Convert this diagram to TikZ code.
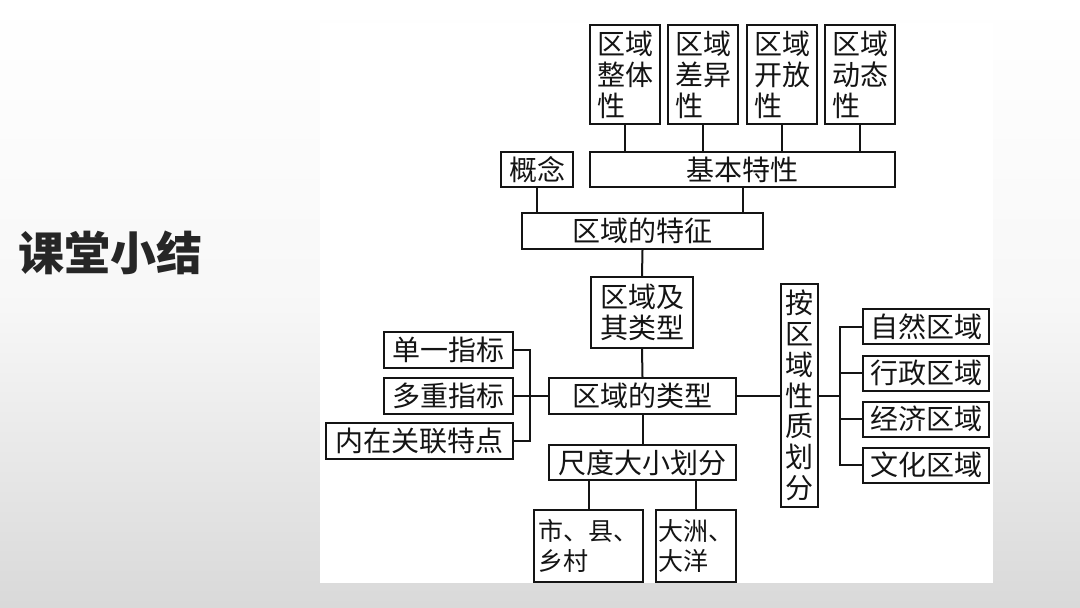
\documentclass[tikz,border=0pt]{standalone}
\usepackage{fontspec}
\newfontfamily\cjk{Noto Sans CJK SC}
\begin{document}
\begin{tikzpicture}[x=1pt,y=-1pt,
  box/.style={draw=black!92, line width=2pt, inner sep=0pt, fill=white,
    font=\cjk\fontsize{28}{31}\selectfont, text=black!92},
  link/.style={draw=black!92, line width=2pt},
  small/.style={font=\cjk\fontsize{25}{30}\selectfont}]
\useasboundingbox (0,0) rectangle (1080,608);
\shade[top color=white, bottom color=black!15, middle color=black!3] (0,0) rectangle (1080,608);
\fill[white] (320,23) rectangle (993,583);
\node[font=\cjk\bfseries\fontsize{46}{46}\selectfont, text=black!85] (title) at (111,253) {课堂小结};
% top boxes
\node[box, minimum width=70, minimum height=99, align=left] (z1) at (625,74.5) {区域\\整体\\性};
\node[box, minimum width=70, minimum height=99, align=left] (z2) at (703,74.5) {区域\\差异\\性};
\node[box, minimum width=70, minimum height=99, align=left] (z3) at (782,74.5) {区域\\开放\\性};
\node[box, minimum width=70, minimum height=99, align=left] (z4) at (860,74.5) {区域\\动态\\性};
\node[box, minimum width=72, minimum height=35] (gn) at (537,169.5) {概念};
\node[box, minimum width=305, minimum height=35] (jb) at (742.5,169.5) {基本特性};
\node[box, minimum width=241, minimum height=36] (tz) at (642.5,231) {区域的特征};
\node[box, minimum width=102, minimum height=71, align=center] (lx) at (642,312.5) {区域及\\其类型};
\node[box, minimum width=187, minimum height=36] (lt) at (642.5,396) {区域的类型};
\node[box, minimum width=129, minimum height=36] (d1) at (448.5,350) {单一指标};
\node[box, minimum width=129, minimum height=36] (d2) at (448.5,396) {多重指标};
\node[box, minimum width=187, minimum height=36] (d3) at (419.5,441) {内在关联特点};
\node[box, minimum width=187, minimum height=35] (cd) at (642.5,462.5) {尺度大小划分};
\node[box, small, minimum width=109, minimum height=72, align=left] (s1) at (588.5,546) {市、县、\\乡村};
\node[box, small, minimum width=80, minimum height=72, align=left] (s2) at (696,546) {大洲、\\大洋};
\node[box, minimum width=37, minimum height=223, align=center, font=\cjk\fontsize{28}{30.8}\selectfont] (ax) at (799.5,395.5) {按\\区\\域\\性\\质\\划\\分};
\node[box, minimum width=126, minimum height=35] (r1) at (926,326.5) {自然区域};
\node[box, minimum width=126, minimum height=35] (r2) at (926,373) {行政区域};
\node[box, minimum width=126, minimum height=35] (r3) at (926,419) {经济区域};
\node[box, minimum width=126, minimum height=35] (r4) at (926,465) {文化区域};
% connectors
\foreach \n in {z1,z2,z3,z4} \draw[link] (\n.south) -- (\n.south |- jb.north);
\draw[link] (gn.south) -- (gn.south |- tz.north);
\draw[link] (jb.south) -- (jb.south |- tz.north);
\draw[link] (tz.south) -- (lx.north);
\draw[link] (lx.south) -- (lt.north);
\coordinate (lb) at (530,396);
\draw[link] (d1.east) -| (lb) |- (d3.east);
\draw[link] (d2.east) -- (lt.west);
\draw[link] (lt.south) -- (cd.north);
\draw[link] (cd.south -| s1.north) -- (s1.north);
\draw[link] (cd.south -| s2.north) -- (s2.north);
\draw[link] (lt.east) -- (lt.east -| ax.west);
\coordinate (rb) at (840,396);
\draw[link] (ax.east |- rb) -- (rb);
\draw[link] (r1.west) -| (rb) |- (r4.west);
\draw[link] (r2.west) -- (r2.west -| rb);
\draw[link] (r3.west) -- (r3.west -| rb);
\end{tikzpicture}
\end{document}
